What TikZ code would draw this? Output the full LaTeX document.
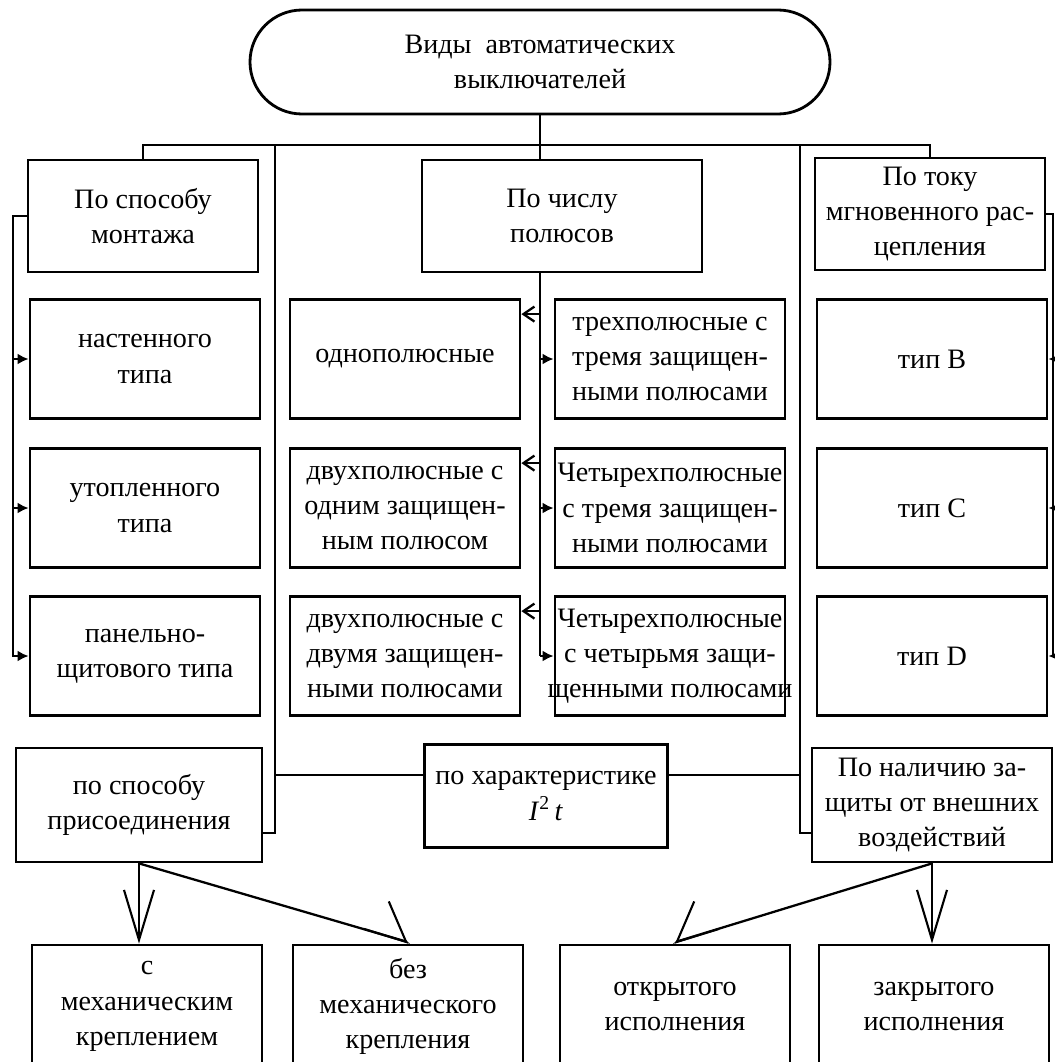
\documentclass[tikz,border=0pt]{standalone}
\usepackage{fontspec}
\setmainfont{Liberation Serif}
\usepackage{tikz}
\usetikzlibrary{arrows.meta,shapes.misc}

\begin{document}
\begin{tikzpicture}[
        box/.style={rectangle, draw, line width=1.6pt, align=center, inner sep=0pt, font=\fontsize{16}{20}\selectfont, minimum width=4.6cm, minimum height=2.38cm},
        conn/.style={draw, line width=1.3pt},
        big/.style={conn, -{Straight Barb[length=1cm, width=0.6cm, line width=1.2pt]}},
        diag/.style={conn, -{Straight Barb[length=0.8cm, width=0.74cm, line width=1.2pt]}},
        tohead/.style={conn, {Straight Barb[length=0.22cm, width=0.3cm]}-},
        fillhead/.style={conn, -{Latex[length=0.22cm, width=0.22cm]}}
    ]
        \useasboundingbox (0,0) rectangle (21.1,-21.24);

        % Nodes
        \node [box, rounded rectangle, minimum width=11.6cm, minimum height=2.08cm] (top) at (10.8, -1.24) {Виды\ \ автоматических\\выключателей};

        \node [box, minimum height=2.24cm] (montazh) at (2.86, -4.32) {По способу\\монтажа};
        \node [box, minimum width=5.6cm, minimum height=2.24cm] (chisl) at (11.24, -4.32) {По числу\\полюсов};
        \node [box, minimum height=2.24cm] (tok) at (18.6, -4.28) {По току\\мгновенного рас-\\цепления};

        \node [box] (nast) at (2.9, -7.18) {настенного\\типа};
        \node [box] (utop) at (2.9, -10.16) {утопленного\\типа};
        \node [box] (panel) at (2.9, -13.12) {панельно-\\щитового типа};

        \node [box] (odno) at (8.1, -7.18) {однополюсные};
        \node [box] (dvuhodin) at (8.1, -10.16) {двухполюсные с\\одним защищен-\\ным полюсом};
        \node [box] (dvuhdva) at (8.1, -13.12) {двухполюсные с\\двумя защищен-\\ными полюсами};

        \node [box] (treh) at (13.4, -7.18) {трехполюсные с\\тремя защищен-\\ными полюсами};
        \node [box] (chettri) at (13.4, -10.16) {\makebox[4.5cm]{Четырехполюсные}\\с тремя защищен-\\ными полюсами};
        \node [box] (chetchet) at (13.4, -13.12) {\makebox[4.5cm]{Четырехполюсные}\\с четырьмя защи-\\\makebox[4.5cm]{щенными полюсами}};

        \node [box] (tipB) at (18.64, -7.18) {тип B};
        \node [box] (tipC) at (18.64, -10.16) {тип C};
        \node [box] (tipD) at (18.64, -13.12) {тип D};

        \node [box, minimum width=4.92cm, minimum height=2.28cm] (prisoed) at (2.78, -16.1) {по способу\\присоединения};
        \node [box, minimum width=4.86cm, minimum height=2.06cm] (harakt) at (10.92, -15.92) {по характеристике\\\textit{I}\textsuperscript{2}\,\textit{t}};
        \node [box, minimum width=4.8cm, minimum height=2.28cm] (nalich) at (18.64, -16.1) {По наличию за-\\щиты от внешних\\воздействий};

        \node [box, minimum height=2.46cm] (smeh) at (2.94, -20.13) {с\\механическим\\креплением};
        \node [box, minimum height=2.46cm] (bezmeh) at (8.16, -20.13) {без\\механического\\крепления};
        \node [box, minimum height=2.46cm] (otkr) at (13.5, -20.13) {открытого\\исполнения};
        \node [box, minimum height=2.46cm] (zakr) at (18.68, -20.13) {закрытого\\исполнения};

        % Helper points
        \coordinate (bus) at (10.8, -2.9);
        \coordinate (spine) at (10.8, 0);
        \coordinate (lsp) at (5.5, -2.9);
        \coordinate (rsp) at (16.0, -2.9);
        \coordinate (lout) at (0.26, 0);
        \coordinate (rout) at (21.06, 0);
        \coordinate (hook) at (0, -16.66);
        \coordinate (mid) at (0, -15.5);

        % Connections
        \path [conn] (top.south) -- (top.south |- chisl.north);
        \path [conn] (montazh.north) |- (bus) -| (tok.north);

        \path [conn] (lsp) -- (lsp |- hook) -- (prisoed.east |- hook);
        \path [conn] (rsp) -- (rsp |- hook) -- (nalich.west |- hook);
        \path [conn] (lsp |- mid) -- (harakt.west |- mid);
        \path [conn] (harakt.east |- mid) -- (rsp |- mid);

        % left column
        \path [fillhead] (montazh.west) -| (lout |- panel.west) -- (panel.west);
        \path [fillhead] (lout |- nast.west) -- (nast.west);
        \path [fillhead] (lout |- utop.west) -- (utop.west);

        % right column
        \path [fillhead] (tok.east) -| (rout |- tipD.east) -- (tipD.east);
        \path [fillhead] (rout |- tipB.east) -- (tipB.east);
        \path [fillhead] (rout |- tipC.east) -- (tipC.east);

        % poles
        \path [conn] (spine |- chisl.south) -- (spine |- chetchet.west);
        \path [tohead] ([yshift=-0.32cm]odno.north east) -- ++(0.4,0);
        \path [tohead] ([yshift=-0.32cm]dvuhodin.north east) -- ++(0.4,0);
        \path [tohead] ([yshift=-0.32cm]dvuhdva.north east) -- ++(0.4,0);
        \path [fillhead] (spine |- treh.west) -- (treh.west);
        \path [fillhead] (spine |- chettri.west) -- (chettri.west);
        \path [fillhead] (spine |- chetchet.west) -- (chetchet.west);

        % bottom
        \path [big] (prisoed.south) -- (prisoed.south |- smeh.north);
        \path [diag] (prisoed.south) -- ([shift={(-0.05,0.045)}]bezmeh.north) -- (bezmeh.north);
        \path [big] (nalich.south) -- (nalich.south |- zakr.north);
        \path [diag] (nalich.south) -- ([shift={(0.05,0.045)}]otkr.north) -- (otkr.north);

    \end{tikzpicture}
\end{document}
